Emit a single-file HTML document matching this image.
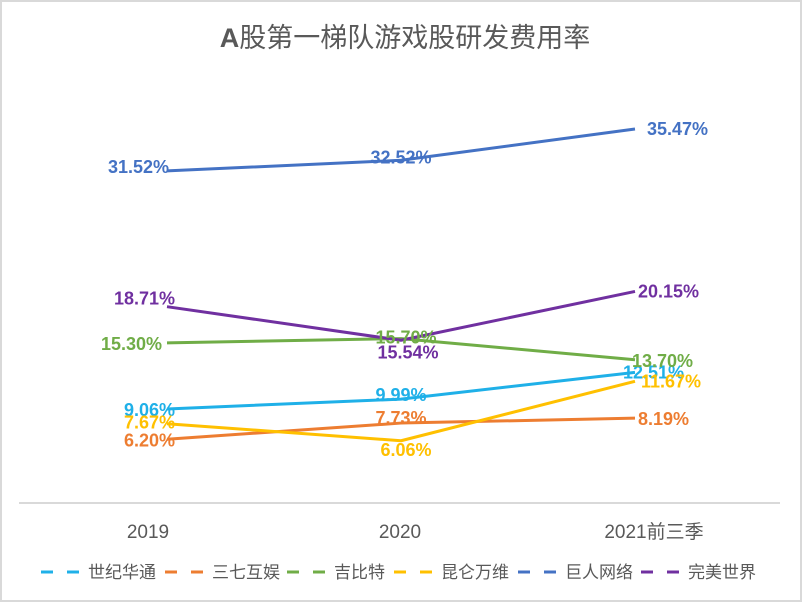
<!DOCTYPE html>
<html><head><meta charset="utf-8"><style>
body{margin:0;background:#fff;}
svg{display:block;font-family:"Liberation Sans","Noto Sans CJK SC",sans-serif;}
</style></head><body>
<svg id="chart" width="802" height="602" viewBox="0 0 802 602">
<rect x="1" y="1" width="800" height="600" fill="#fff" stroke="#d9d9d9" stroke-width="2"/>
<text x="405" y="47" text-anchor="middle" font-size="27" fill="#595959"><tspan font-weight="bold">A</tspan>股第一梯队游戏股研发费用率</text>
<line x1="19" y1="503" x2="780" y2="503" stroke="#d9d9d9" stroke-width="2"/>
<g id="xlabels"></g><g id="lines"></g><g id="labels"></g><g id="legend"></g>
</svg>
<script>
const categories=["2019","2020","2021前三季"];
const seriesNames=["世纪华通","三七互娱","吉比特","昆仑万维","巨人网络","完美世界"];
const s0=[9.06,9.99,12.51];
const s1=[6.20,7.73,8.19];
const s2=[15.30,15.70,13.70];
const s3=[7.67,6.06,11.67];
const s4=[31.52,32.52,35.47];
const s5=[18.71,15.54,20.15];
const series=[s0,s1,s2,s3,s4,s5];
const colors=["#1fb0e8","#ed7d31","#70ad47","#ffc000","#4472c4","#7030a0"];
const NS="http://www.w3.org/2000/svg";
function xLine(i){return 167+i*234;}
function xCat(i){return 148+i*252;}
function y(v){return 505-v*10.6;}
function mk(tag,attrs,parent){const e=document.createElementNS(NS,tag);for(const k in attrs)e.setAttribute(k,attrs[k]);document.getElementById(parent).appendChild(e);return e;}
categories.forEach((c,i)=>{
 const t=mk("text",{x:xCat(i)+(i==2?2:0),y:538,"text-anchor":"middle","font-size":"19",fill:"#595959"},"xlabels");
 
 
 t.textContent=c;
});
const lblOff=[
 [[8,7,"end"],[0,2,"middle"],[-12,6,"start"]],
 [[8,7,"end"],[0,1,"middle"],[3,7,"start"]],
 [[-5,7,"end"],[5,5,"middle"],[-3,7,"start"]],
 [[8,5,"end"],[5,15,"middle"],[6,6,"start"]],
 [[2,2,"end"],[0,3,"middle"],[12,6,"start"]],
 [[8,-2,"end"],[7,18,"middle"],[3,6,"start"]]
];
series.forEach((s,k)=>{
 const pts=s.map((v,i)=>xLine(i)+","+y(v)).join(" ");
 const p=mk("polyline",{points:pts,fill:"none",stroke:colors[k],"stroke-width":"3","stroke-linejoin":"round"},"lines");
 
 
 s.forEach((v,i)=>{
  const o=lblOff[k][i];
  const t=mk("text",{x:xLine(i)+o[0],y:y(v)+o[1],"text-anchor":o[2],"font-size":"18","font-weight":"bold",fill:colors[k]},"labels");
  
  
  t.textContent=v.toFixed(2)+"%";
 });
 const lx=[41,165,287,394,518,641][k];
 const g=mk("g",{},"legend");
 
 
 const l=document.createElementNS(NS,"line");
 l.setAttribute("x1",lx);l.setAttribute("x2",lx+38);l.setAttribute("y1",572);l.setAttribute("y2",572);
 l.setAttribute("stroke",colors[k]);l.setAttribute("stroke-width","3");l.setAttribute("stroke-dasharray","12 14");
 g.appendChild(l);
 const t=document.createElementNS(NS,"text");
 t.setAttribute("x",lx+47);t.setAttribute("y",578);t.setAttribute("font-size","17");t.setAttribute("fill","#595959");
 t.textContent=seriesNames[k];
 g.appendChild(t);
});
</script>
</body></html>
